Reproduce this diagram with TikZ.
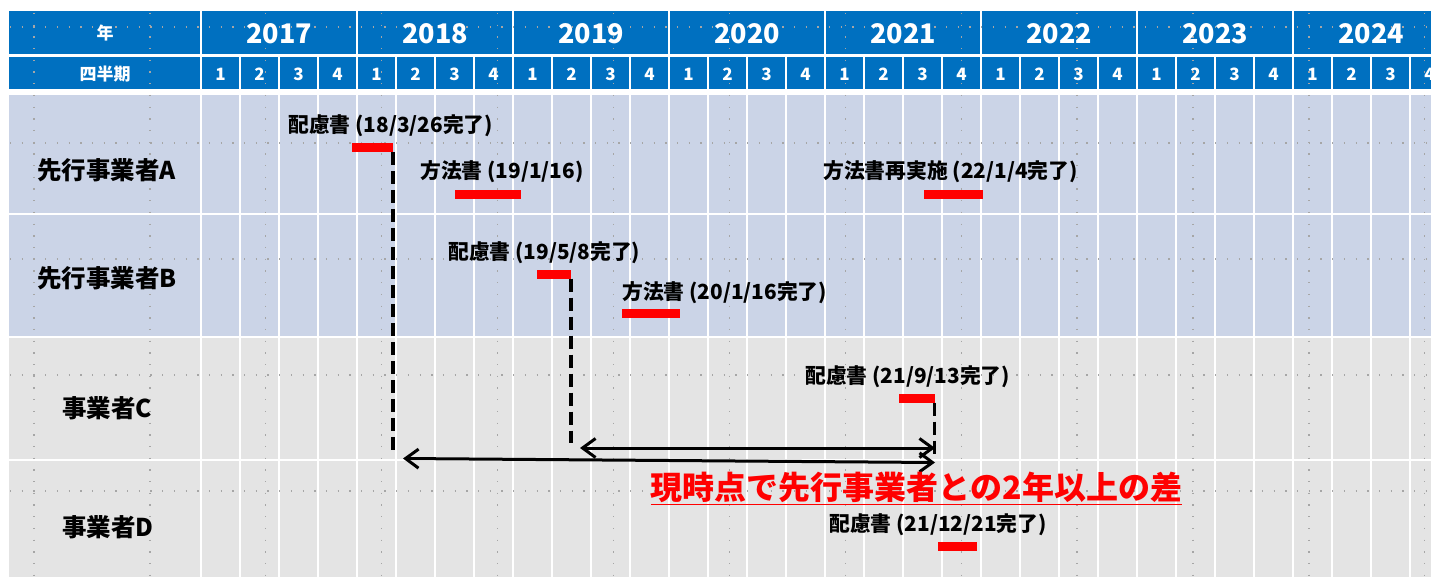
\documentclass[tikz,border=0pt]{standalone}
\usepackage{fontspec}
\setmainfont{Noto Sans CJK JP}
\usepackage{xcolor}
\usetikzlibrary{arrows.meta}
\definecolor{headblue}{HTML}{0070C0}
\definecolor{rowblue}{HTML}{CBD4E7}
\definecolor{rowgray}{HTML}{E4E4E4}
\definecolor{barred}{HTML}{FF0000}

\begin{document}
\begin{tikzpicture}[x=1pt,y=-1pt,>={Straight Barb[length=13pt,width=19pt]},
    bar node/.style={rectangle,fill=barred,inner sep=0pt,minimum height=9pt},
    event node/.style={anchor=west,inner sep=0pt,font=\fontsize{20.8}{24}\selectfont\bfseries},
    row node/.style={anchor=west,inner sep=0pt,font=\fontsize{24.5}{28}\selectfont\bfseries},
    head node/.style={text=white,inner sep=0pt,font=\fontsize{17}{20}\selectfont\bfseries},
    year node/.style={text=white,inner sep=0pt,font=\fontsize{27}{32}\selectfont\bfseries},
    lead line/.style={line width=3.5pt,dash pattern=on 13pt off 6pt},
    gap arrow/.style={<->,line width=3pt},
    guide/.style={gray!70,line width=1.3pt,dash pattern=on 1.3pt off 10.4pt}]
\useasboundingbox (0,0) rectangle (1431,577);
\clip (0,0) rectangle (1431,577);

% table
\fill[headblue] (9,11) rectangle (1431,89);
\fill[rowblue] (9,95) rectangle (1431,337);
\fill[rowgray] (9,337) rectangle (1431,577);
\foreach \q in {0,...,31}
  \draw[white,line width=2.5pt] ({201+39*\q},57) -- ({201+39*\q},577);
\foreach \i in {0,...,7}
  \draw[white,line width=2.5pt] ({201+156*\i},11) -- ({201+156*\i},57);
\draw[white,line width=3pt] (9,55.5) -- (1431,55.5);
\foreach \y in {214,337,460}
  \draw[white,line width=2.5pt] (9,\y) -- (1431,\y);
\foreach \k in {0,...,12}
  \draw[guide] ({34+115.9*\k},13) -- ({34+115.9*\k},577);
\foreach \k in {0,...,4}
  \draw[guide] (10,{27+116*\k}) -- (1431,{27+116*\k});

% header
\node[head node] (yearhead) at (105,33) {年};
\node[head node] (qhead) at (105,74) {四半期};
\foreach \yr [count=\i from 0] in {2017,...,2024}
  \node[year node] (y\yr) at ({279+156*\i},34) {\yr};
\foreach \q in {0,...,31} {
  \pgfmathtruncatemacro{\qn}{mod(\q,4)+1}
  \node[head node] (q\q) at ({220.5+39*\q},74) {\qn};
}

\node[row node] (compA) at (37,170) {先行事業者A};
\node[row node] (compB) at (37,278) {先行事業者B};
\node[row node] (compC) at (62,408) {事業者C};
\node[row node] (compD) at (62,527) {事業者D};

% events
\node[bar node,minimum width=41pt] (a1) at (372.5,147.5) {};
\node[bar node,minimum width=66pt] (a2) at (488,194.5) {};
\node[bar node,minimum width=59pt] (a3) at (953.5,194.5) {};
\node[bar node,minimum width=34pt] (b1) at (554,274) {};
\node[bar node,minimum width=58pt] (b2) at (651,313) {};
\node[bar node,minimum width=36pt] (c1) at (916.5,398) {};
\node[bar node,minimum width=39pt] (d1) at (957.5,546.5) {};

\node[event node] (la1) at (288,126) {配慮書 (18/3/26完了)};
\node[event node] (la2) at (420,172) {方法書 (19/1/16)};
\node[event node] (la3) at (823,172) {方法書再実施 (22/1/4完了)};
\node[event node] (lb1) at (448,253) {配慮書 (19/5/8完了)};
\node[event node] (lb2) at (622,293) {方法書 (20/1/16完了)};
\node[event node] (lc1) at (805,377) {配慮書 (21/9/13完了)};
\node[event node] (ld1) at (829,525) {配慮書 (21/12/21完了)};

% gaps
\coordinate (a1foot) at (393,453);
\coordinate (b1foot) at (571,443);
\coordinate (c1foot) at (934,458);
\coordinate (gapA) at (403,458.5);
\coordinate (gapB) at (580,448);
\coordinate (nowlow) at (935,462.5);
\coordinate (nowhigh) at (935,448);

\draw[lead line] (a1.south east) -- (a1.south east |- a1foot);
\draw[lead line] (b1.south east) -- (b1.south east |- b1foot);
\draw[lead line] (c1.south east) -- (c1.south east |- c1foot);
\draw[gap arrow] (gapB) -- (nowhigh);
\draw[gap arrow] (gapA) -- (nowlow);

\node[inner sep=0pt,text=barred,font=\fontsize{32}{36}\selectfont\bfseries] (gapnote) at (916.5,488)
  {\underline{現時点で先行事業者との2年以上の差}};
\end{tikzpicture}
\end{document}
